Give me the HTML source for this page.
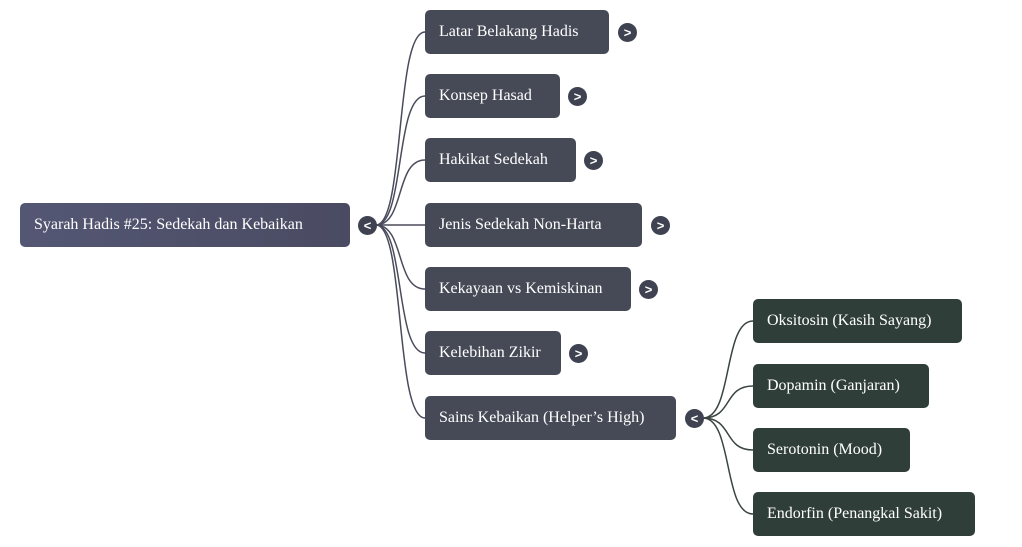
<!DOCTYPE html>
<html><head><style>
body{margin:0;width:1022px;height:547px;background:#fff;position:relative;overflow:hidden;font-family:"Liberation Serif",serif}
.b{position:absolute;height:44px;border-radius:5px;color:#fff;font-size:16px;line-height:44px;padding-left:14px;box-sizing:border-box;white-space:nowrap}
.c{background:#464a56}
.g{background:#2f3e38}
.r{background:linear-gradient(90deg,#545774,#4a4b62)}
.o{position:absolute;width:19px;height:19px;border-radius:50%;background:#3f4250;color:#fff;font:bold 13px/19px "Liberation Sans",sans-serif;text-align:center}
svg{position:absolute;left:0;top:0}
</style></head><body>
<svg width="1022" height="547" fill="none" stroke="#4a4c5c" stroke-width="1.5">
<path d="M376 225 C405 225,395 32,425 32"/>
<path d="M376 225 C405 225,395 96,425 96"/>
<path d="M376 225 C405 225,395 160,425 160"/>
<path d="M376 225 L425 225"/>
<path d="M376 225 C405 225,395 289,425 289"/>
<path d="M376 225 C405 225,395 353,425 353"/>
<path d="M376 225 C405 225,395 418,425 418"/>
<path stroke="#3a4440" d="M703 418 C733 418,723 321,753 321"/>
<path stroke="#3a4440" d="M703 418 C733 418,723 386,753 386"/>
<path stroke="#3a4440" d="M703 418 C733 418,723 450,753 450"/>
<path stroke="#3a4440" d="M703 418 C733 418,723 514,753 514"/>
</svg>
<div class="b r" style="left:20px;top:203px;width:330px">Syarah Hadis #25: Sedekah dan Kebaikan</div>
<div class="o" style="left:358px;top:216px">&lt;</div>
<div class="b c" style="left:425px;top:10px;width:184px">Latar Belakang Hadis</div><div class="o" style="left:618px;top:23px">&gt;</div>
<div class="b c" style="left:425px;top:74px;width:135px">Konsep Hasad</div><div class="o" style="left:568px;top:87px">&gt;</div>
<div class="b c" style="left:425px;top:138px;width:151px">Hakikat Sedekah</div><div class="o" style="left:584px;top:151px">&gt;</div>
<div class="b c" style="left:425px;top:203px;width:217px">Jenis Sedekah Non-Harta</div><div class="o" style="left:651px;top:216px">&gt;</div>
<div class="b c" style="left:425px;top:267px;width:206px">Kekayaan vs Kemiskinan</div><div class="o" style="left:639px;top:280px">&gt;</div>
<div class="b c" style="left:425px;top:331px;width:136px">Kelebihan Zikir</div><div class="o" style="left:569px;top:344px">&gt;</div>
<div class="b c" style="left:425px;top:396px;width:251px">Sains Kebaikan (Helper’s High)</div><div class="o" style="left:685px;top:409px">&lt;</div>
<div class="b g" style="left:753px;top:299px;width:209px">Oksitosin (Kasih Sayang)</div>
<div class="b g" style="left:753px;top:364px;width:176px">Dopamin (Ganjaran)</div>
<div class="b g" style="left:753px;top:428px;width:157px">Serotonin (Mood)</div>
<div class="b g" style="left:753px;top:492px;width:222px">Endorfin (Penangkal Sakit)</div>
</body></html>
